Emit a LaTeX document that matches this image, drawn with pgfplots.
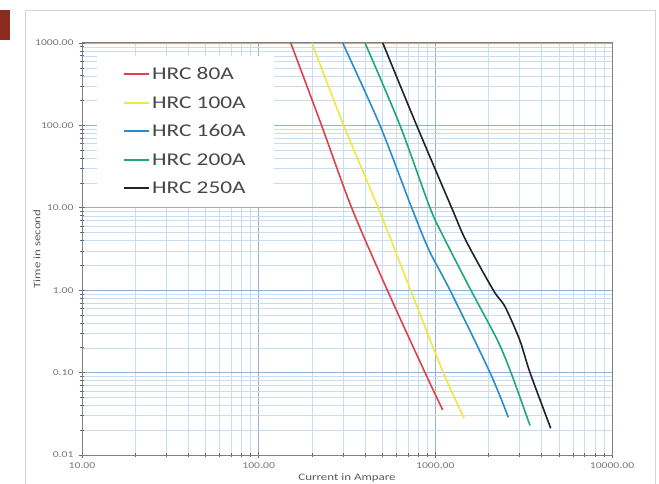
\documentclass[border=0pt]{standalone}
\usepackage{fontspec}
\setmainfont{Carlito}[FakeStretch=1.3]
\usepackage{pgfplots}
\pgfplotsset{compat=1.18}

\definecolor{cEighty}{RGB}{224,64,74}
\definecolor{cHundred}{RGB}{242,232,60}
\definecolor{cOneSixty}{RGB}{40,140,200}
\definecolor{cTwoHundred}{RGB}{30,168,116}
\definecolor{cTwoFifty}{RGB}{34,34,34}
\definecolor{gridmajor}{RGB}{150,178,206}
\definecolor{gridminor}{RGB}{200,221,240}
\definecolor{axisgray}{RGB}{128,128,128}
\definecolor{labelgray}{RGB}{120,120,120}
\definecolor{legtext}{RGB}{72,72,72}

\begin{document}
\begin{tikzpicture}
\useasboundingbox (0bp,0bp) rectangle (659bp,484bp);
% page frame and the red tab at the top left
\draw[line width=0.8bp, color={rgb,255:red,212;green,212;blue,212}]
  (25bp,-5bp) -- (25bp,474bp) -- (655bp,474bp) -- (655bp,-5bp);
\fill[color={rgb,255:red,140;green,43;blue,31}] (0bp,444bp) rectangle (10bp,474bp);

\begin{axis}[
  at={(82bp,29bp)}, anchor=south west,
  scale only axis, width=530bp, height=412bp,
  xmode=log, ymode=log,
  xmin=10, xmax=10000, ymin=0.01, ymax=1000,
  xtick={10,100,1000,10000},
  xticklabels={10.00,100.00,1000.00,10000.00},
  ytick={0.01,0.1,1,10,100,1000},
  yticklabels={0.01,0.10,1.00,10.00,100.00,1000.00},
  minor xtick={20,30,40,50,60,70,80,90,200,300,400,500,600,700,800,900,2000,3000,4000,5000,6000,7000,8000,9000},
  minor ytick={0.02,0.03,0.04,0.05,0.06,0.07,0.08,0.09,0.2,0.3,0.4,0.5,0.6,0.7,0.8,0.9,2,3,4,5,6,7,8,9,20,30,40,50,60,70,80,90,200,300,400,500,600,700,800,900},
  grid=both,
  major grid style={color=gridmajor, line width=0.6bp},
  minor grid style={color=gridminor, line width=0.5bp},
  axis line style={color=axisgray, line width=1bp},
  tick style={color=axisgray!80!black, line width=0.6bp},
  major tick length=6bp, minor tick length=5bp,
  tick align=center, tick pos=left,
  ticklabel style={font=\fontsize{9}{10}\selectfont, text=labelgray},
  xticklabel style={yshift=-1bp},
  yticklabel style={xshift=-2bp},
  every axis x label/.style={at={(axis description cs:0.5,-0.056)}, anchor=center,
    font=\fontsize{10}{11}\selectfont, text=black!65},
  every axis y label/.style={at={(axis description cs:-0.085,0.5)}, rotate=90, anchor=center,
    font=\fontsize{10}{11}\selectfont, text=black!65},
  xlabel={Current in Ampare},
  ylabel={Time in second},
  legend style={at={(axis description cs:0.028,0.968)}, anchor=north west,
    fill=white, draw=none, inner xsep=26bp, inner ysep=11bp,
    font=\fontsize{18}{18}\selectfont, text=legtext,
    row sep=14bp,
    nodes={inner xsep=2bp, inner ysep=0bp, text height=12.5bp, text depth=2bp}},
  legend cell align=left,
  legend image code/.code={\draw[#1, line width=2bp] (0bp,0.5bp) -- (25bp,0.5bp);},
  every axis plot/.append style={line width=1.6bp, smooth, tension=0.5},
]
\addplot[draw=cEighty] coordinates {
  (152,1000) (227,100) (336,10) (535,1) (874,0.1) (1101,0.0352)
};
\addplot[draw=cHundred] coordinates {
  (200,1000) (303,100) (475,10) (725,1) (1109,0.1) (1458,0.0279)
};
\addplot[draw=cOneSixty] coordinates {
  (299,1000) (486,100) (735,10) (925,3) (1211,1) (2039,0.1) (2588,0.0287)
};
\addplot[draw=cTwoHundred] coordinates {
  (400,1000) (631,100) (933,10) (1140,4) (1590,1) (2240,0.25) (2680,0.1) (3435,0.0228)
};
\addplot[draw=cTwoFifty] coordinates {
  (504,1000) (784,100) (1237,10) (1490,4) (2129,1) (2480,0.63) (3000,0.25) (3435,0.1) (4498,0.0211)
};
\legend{HRC 80A, HRC 100A, HRC 160A, HRC 200A, HRC 250A}
\end{axis}
\end{tikzpicture}
\end{document}
